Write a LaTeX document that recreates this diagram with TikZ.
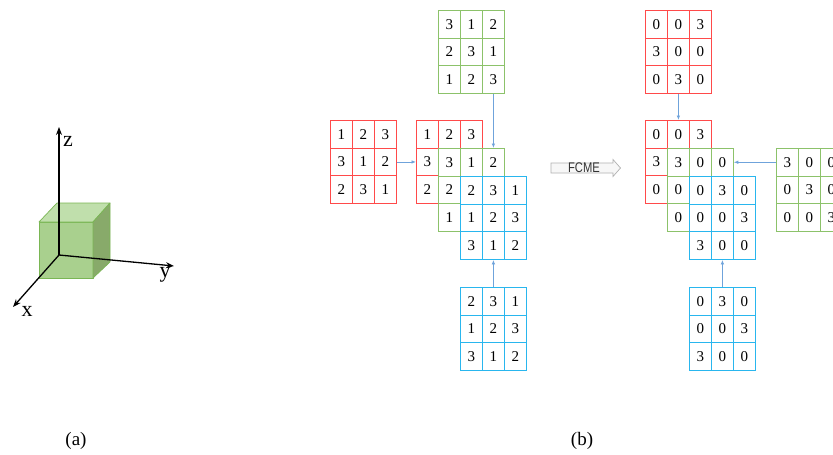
\documentclass[tikz,border=0pt]{standalone}
\usepackage{fontspec}
\setmainfont{Liberation Serif}
\newfontfamily\fcmefont{Liberation Sans}
\usetikzlibrary{matrix,arrows.meta}
\definecolor{mred}{HTML}{FF4A4A}
\definecolor{mgreen}{HTML}{8CC26A}
\definecolor{mblue}{HTML}{29B6EE}
\definecolor{marrow}{HTML}{6FA3DB}
\definecolor{cubefront}{RGB}{169,208,142}
\definecolor{cubetop}{RGB}{192,223,172}
\definecolor{cubeside}{RGB}{136,170,106}
\definecolor{cubeedge}{RGB}{122,182,84}
\tikzset{
  cellmat/.style={matrix of nodes, inner sep=0pt, outer sep=0pt,
    column sep=-0.8pt, row sep=-0.8pt, anchor=north west,
    nodes={draw=#1, fill=white, line width=0.8pt, minimum width=22pt,
      minimum height=27.7pt, inner sep=0pt, outer sep=0.4pt,
      font=\fontsize{15}{15}\selectfont, anchor=center}},
  conn/.style={draw=marrow, line width=0.8pt, -{Latex[length=4.5pt,width=3.5pt]}},
  axis/.style={draw=black, line width=1.3pt, -{Stealth[length=8pt,width=6pt]}},
  axlabel/.style={font=\fontsize{22}{22}\selectfont, inner sep=0pt},
  sublabel/.style={font=\fontsize{19}{19}\selectfont, inner sep=0pt},
  cubeface/.style={draw=cubeedge, line width=0.7pt, line join=round},
}
\begin{document}
\begin{tikzpicture}[x=1pt,y=-1pt]
\useasboundingbox (0,0) rectangle (833,455);
% ---------- (a) cube and axes ----------
\fill[white] (0,0) rectangle (833,455);
\draw[cubeface, fill=cubefront] (39,222) -- (93,222) -- (93,278) -- (39,278) -- cycle;
\draw[cubeface, fill=cubetop] (39,222) -- (57,203) -- (110,203) -- (93,222) -- cycle;
\draw[cubeface, fill=cubeside] (93,222) -- (110,203) -- (110,262) -- (93,278) -- cycle;
\coordinate (O) at (59,255);
\coordinate (Z) at (59,127);
\coordinate (Y) at (174,266);
\coordinate (X) at (13,307);
\draw[axis] (O) -- (Z);
\draw[axis] (O) -- (Y);
\draw[axis] (O) -- (X);
\node[axlabel] (zl) at (68,141) {z};
\node[axlabel] (yl) at (165,275) {y};
\node[axlabel] (xl) at (27,311) {x};
\node[sublabel] (la) at (76,441) {(a)};
\node[sublabel] (lb) at (582,441) {(b)};
% ---------- (b) matrices ----------
\begin{scope}
\clip (0,0) rectangle (833,455);
% left group
\matrix[cellmat=mred] (L1) at (330,120) {1 & 2 & 3\\ 3 & 1 & 2\\ 2 & 3 & 1\\};
\matrix[cellmat=mgreen] (Gt) at (438,10) {3 & 1 & 2\\ 2 & 3 & 1\\ 1 & 2 & 3\\};
\matrix[cellmat=mred] (Rm) at (416,120) {1 & 2 & 3\\ 3 & 1 & 2\\ 2 & 3 & 1\\};
\matrix[cellmat=mgreen] (Gm) at (438,148) {3 & 1 & 2\\ 2 & 3 & 1\\ 1 & 2 & 3\\};
\matrix[cellmat=mblue] (Bm) at (460,176) {2 & 3 & 1\\ 1 & 2 & 3\\ 3 & 1 & 2\\};
\matrix[cellmat=mblue] (Bb) at (460,287) {2 & 3 & 1\\ 1 & 2 & 3\\ 3 & 1 & 2\\};
% right group
\matrix[cellmat=mred] (Rt) at (645,10) {0 & 0 & 3\\ 3 & 0 & 0\\ 0 & 3 & 0\\};
\matrix[cellmat=mred] (Rm2) at (645,120) {0 & 0 & 3\\ 3 & 0 & 0\\ 0 & 3 & 0\\};
\matrix[cellmat=mgreen] (Gm2) at (667,148) {3 & 0 & 0\\ 0 & 3 & 0\\ 0 & 0 & 3\\};
\matrix[cellmat=mblue] (Bm2) at (689,176) {0 & 3 & 0\\ 0 & 0 & 3\\ 3 & 0 & 0\\};
\matrix[cellmat=mblue] (Bb2) at (689,287) {0 & 3 & 0\\ 0 & 0 & 3\\ 3 & 0 & 0\\};
\matrix[cellmat=mgreen] (Gr) at (776,148) {3 & 0 & 0\\ 0 & 3 & 0\\ 0 & 0 & 3\\};
% connectors
\draw[conn] (L1.east) -- (Rm.west);
\draw[conn] (Gt-3-3.south) -- (Gm-1-3.north);
\draw[conn] (Bb-1-2.north) -- (Bm-3-2.south);
\draw[conn] (Rt-3-2.south) -- (Rm2-1-2.north);
\draw[conn] (Gr-1-1.west) -- (Gm2-1-3.east);
\draw[conn] (Bb2-1-2.north) -- (Bm2-3-2.south);
\end{scope}
% FCME arrow
\draw[draw=gray!60, fill=gray!6, line width=0.7pt, line join=miter]
  (551,163) -- (613,163) -- (613,159.5) -- (620.5,168) -- (613,176.5) -- (613,173) -- (551,173) -- cycle;
\node[inner sep=0pt, text=black!80, font=\fcmefont\fontsize{14}{14}\selectfont] (fcme) at (584,168) {\scalebox{0.8}[1]{FCME}};
\end{tikzpicture}
\end{document}
